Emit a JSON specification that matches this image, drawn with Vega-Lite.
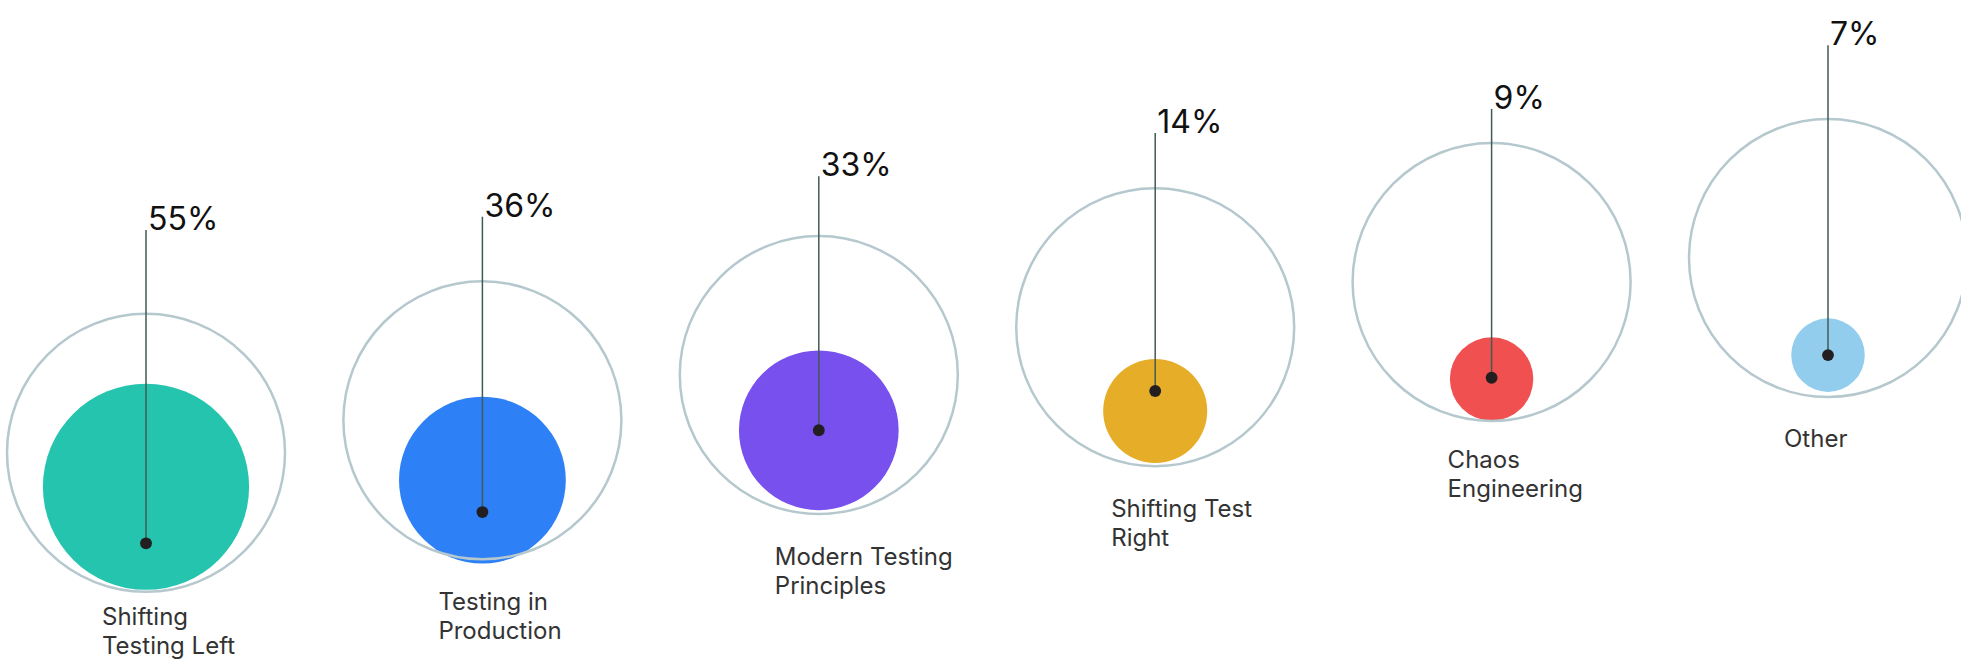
{
  "$schema": "https://vega.github.io/schema/vega-lite/v6.json",
  "width": 1961,
  "height": 665,
  "autosize": {"type": "fit", "contains": "padding"},
  "padding": 0,
  "background": "#ffffff",
  "config": {"view": {"stroke": null}},
  "data": {
    "values": [
      {"cat": "Shifting Testing Left", "lines": ["Shifting", "Testing Left"], "pct": 55, "value": "55%", "ring": 31.9, "bubble": 26.8, "dot": 18.3, "top": 65.4, "lab": 6.0},
      {"cat": "Testing in Production", "lines": ["Testing in", "Production"], "pct": 36, "value": "36%", "ring": 36.8, "bubble": 27.8, "dot": 23.0, "top": 67.4, "lab": 8.3},
      {"cat": "Modern Testing Principles", "lines": ["Modern Testing", "Principles"], "pct": 33, "value": "33%", "ring": 43.6, "bubble": 35.3, "dot": 35.3, "top": 73.5, "lab": 15.0},
      {"cat": "Shifting Test Right", "lines": ["Shifting Test", "Right"], "pct": 14, "value": "14%", "ring": 50.8, "bubble": 38.2, "dot": 41.2, "top": 80.0, "lab": 22.3},
      {"cat": "Chaos Engineering", "lines": ["Chaos", "Engineering"], "pct": 9, "value": "9%", "ring": 57.6, "bubble": 43.0, "dot": 43.2, "top": 83.6, "lab": 29.6},
      {"cat": "Other", "lines": ["Other"], "pct": 7, "value": "7%", "ring": 61.2, "bubble": 46.6, "dot": 46.6, "top": 93.2, "lab": 32.8}
    ]
  },
  "encoding": {
    "x": {"field": "cat", "type": "nominal", "sort": null, "axis": null,
          "scale": {"type": "point", "padding": 0, "range": [146, 1828]}}
  },
  "layer": [
    {
      "mark": {"type": "point", "shape": "circle", "filled": true, "opacity": 1},
      "encoding": {
        "y": {"field": "bubble", "type": "quantitative", "axis": null, "scale": {"domain": [0, 100]}},
        "size": {"field": "pct", "type": "quantitative", "legend": null,
                 "scale": {"type": "linear", "domain": [0, 100], "range": [0, 77284]}},
        "color": {"field": "cat", "type": "nominal", "legend": null, "sort": null,
                  "scale": {"domain": ["Shifting Testing Left", "Testing in Production", "Modern Testing Principles", "Shifting Test Right", "Chaos Engineering", "Other"],
                            "range": ["#25C4AE", "#2E80F6", "#7850EE", "#E6AD29", "#F05050", "#92CDEE"]}}
      }
    },
    {
      "mark": {"type": "point", "shape": "circle", "filled": false, "stroke": "#B5C8CE", "strokeWidth": 2.5, "opacity": 1},
      "encoding": {
        "y": {"field": "ring", "type": "quantitative"},
        "size": {"datum": 100, "type": "quantitative"}
      }
    },
    {
      "mark": {"type": "rule", "color": "#3F5C50", "strokeWidth": 1.5},
      "encoding": {
        "y": {"field": "top", "type": "quantitative"},
        "y2": {"field": "dot"}
      }
    },
    {
      "mark": {"type": "point", "shape": "circle", "filled": true, "color": "#231F20", "opacity": 1, "size": 140},
      "encoding": {
        "y": {"field": "dot", "type": "quantitative"}
      }
    },
    {
      "mark": {"type": "text", "align": "left", "baseline": "alphabetic", "dx": 2, "font": "Inter", "fontSize": 32, "color": "#111111"},
      "encoding": {
        "y": {"field": "top", "type": "quantitative"},
        "text": {"field": "value"}
      }
    },
    {
      "mark": {"type": "text", "align": "left", "baseline": "alphabetic", "dx": -44, "font": "Inter", "fontSize": 24, "lineHeight": 29, "color": "#333333"},
      "encoding": {
        "y": {"field": "lab", "type": "quantitative"},
        "text": {"field": "lines"}
      }
    }
  ]
}
